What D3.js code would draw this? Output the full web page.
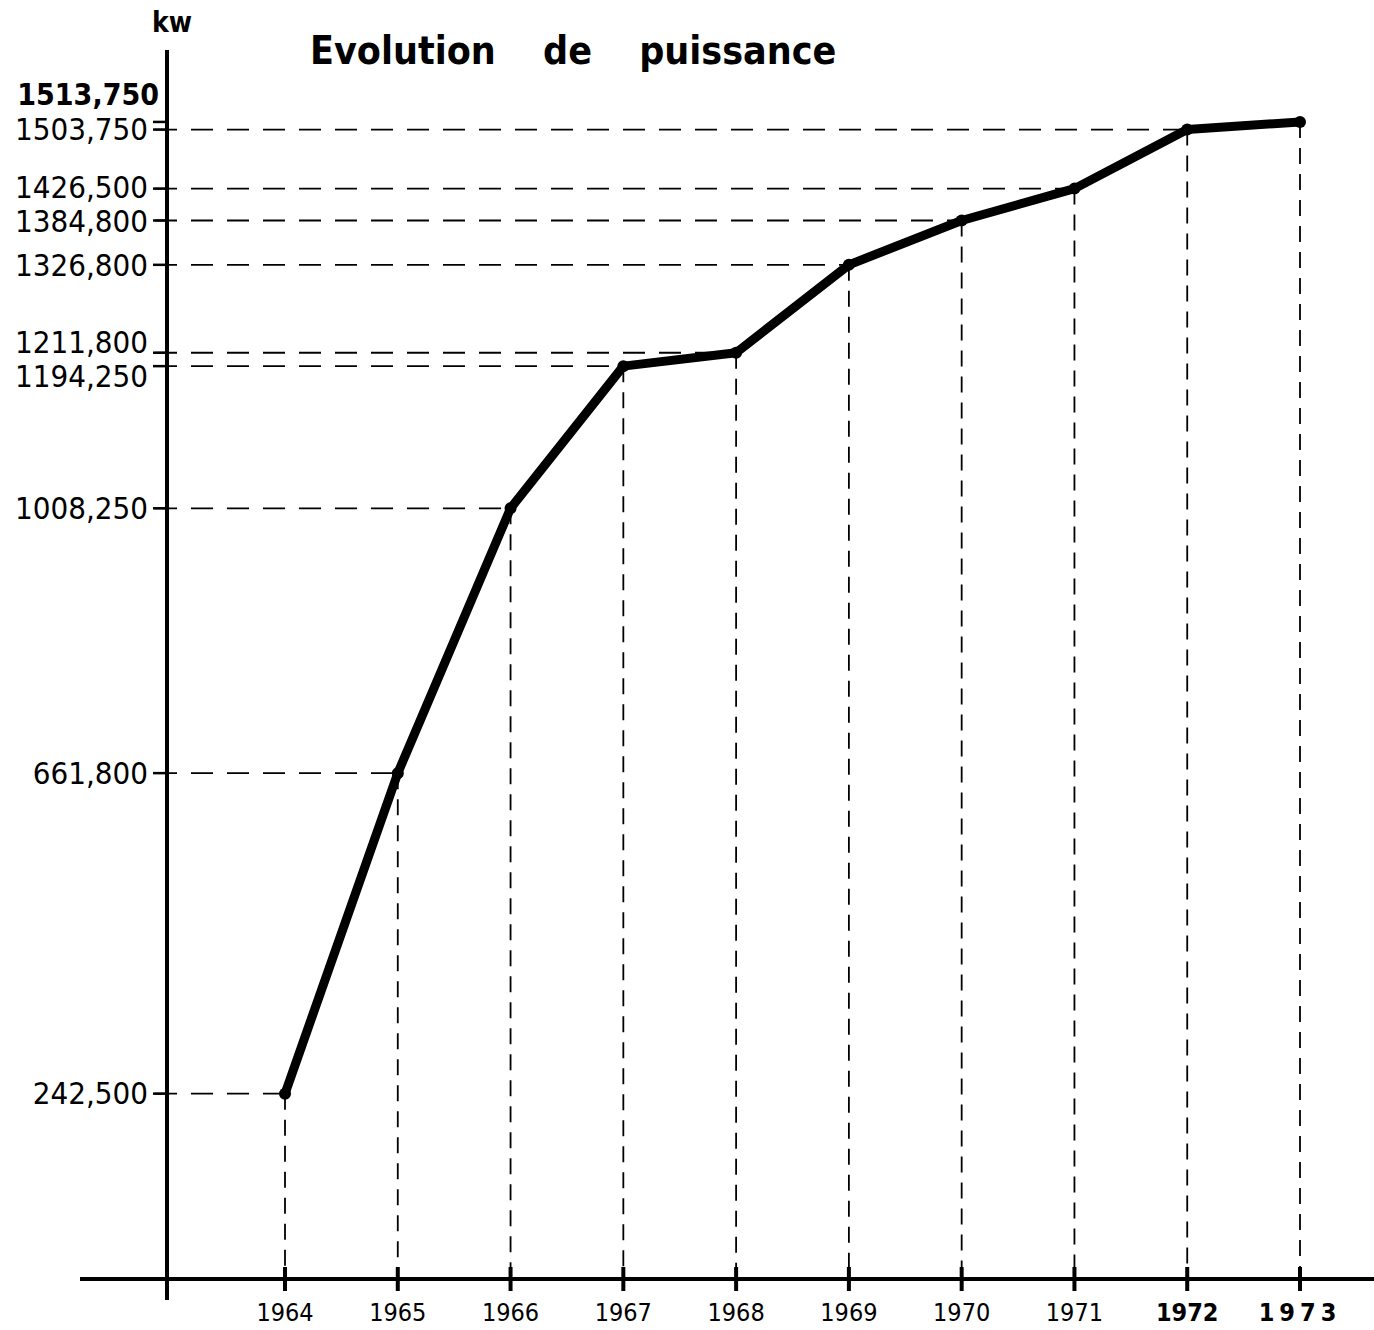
<!DOCTYPE html>
<html><head><meta charset="utf-8">
<script src="https://cdn.jsdelivr.net/npm/d3@7"></script>
<style>body{margin:0;background:#fff}</style>
</head><body>
<svg id="c" width="1374" height="1330"></svg>
<script>
// ---- data ----
const years = [1964, 1965, 1966, 1967, 1968, 1969, 1970, 1971, 1972, 1973];
const power = [242.5, 661.8, 1008.25, 1194.25, 1211.8, 1326.8, 1384.8, 1426.5, 1503.75, 1513.75]; // thousands kw
const powerLabels = ["242,500", "661,800", "1008,250", "1194,250", "1211,800", "1326,800", "1384,800", "1426,500", "1503,750", "1513,750"];
const yearLabels = ["1964", "1965", "1966", "1967", "1968", "1969", "1970", "1971", "1972", "1973"];
const title = "Evolution de puissance";
const unit = "kw";

const svg = d3.select("#c");
const W = 1374, H = 1330;
svg.append("rect").attr("width", W).attr("height", H).attr("fill", "#fff");

const x = d3.scaleLinear().domain([1964, 1973]).range([285, 1300]);
const y = d3.scaleLinear().domain([0, 1600]).range([1279, 56]);
const axisX = 167, baseY = y(0);
const font = "'DejaVu Sans Condensed','DejaVu Sans',sans-serif";

const data = years.map((yr, i) => ({ yr, v: power[i], lab: powerLabels[i], ylab: yearLabels[i], i }));
const last = data.length - 1;

// label positions: start at the value, nudge apart where they would collide
data.forEach(d => d.ly = y(d.v) + (d.i === last ? -27 : 0));
const minGap = 34;
for (let it = 0; it < 50; it++) {
  const s = data.slice().sort((a, b) => a.ly - b.ly);
  for (let k = 1; k < s.length; k++) {
    const gap = s[k].ly - s[k - 1].ly;
    if (gap < minGap) {
      const m = (minGap - gap) / 2;
      s[k - 1].ly -= m; s[k].ly += m;
    }
  }
}

// dashed guides
const g = svg.append("g").attr("stroke", "#000").attr("fill", "none");
g.selectAll("line.h").data(data.filter(d => d.i !== last)).join("line")
  .attr("class", "h")
  .attr("x1", axisX - 12).attr("x2", d => x(d.yr))
  .attr("y1", d => y(d.v)).attr("y2", d => y(d.v))
  .attr("stroke-width", 1.8).attr("stroke-dasharray", "22,14");
g.selectAll("line.v").data(data).join("line")
  .attr("class", "v")
  .attr("x1", d => x(d.yr)).attr("x2", d => x(d.yr))
  .attr("y1", d => y(d.v)).attr("y2", baseY)
  .attr("stroke-width", 1.8).attr("stroke-dasharray", "16,10");

// axes
svg.append("line").attr("x1", axisX).attr("x2", axisX).attr("y1", 50).attr("y2", 1300)
  .attr("stroke", "#000").attr("stroke-width", 4);
svg.append("line").attr("x1", 80).attr("x2", W).attr("y1", baseY).attr("y2", baseY)
  .attr("stroke", "#000").attr("stroke-width", 4);

// x tick marks
svg.selectAll("line.xt").data(data).join("line")
  .attr("class", "xt")
  .attr("x1", d => x(d.yr)).attr("x2", d => x(d.yr))
  .attr("y1", baseY - 12).attr("y2", baseY + 12)
  .attr("stroke", "#000").attr("stroke-width", 4);

// y tick marks
svg.selectAll("line.yt").data(data).join("line")
  .attr("class", "yt")
  .attr("x1", axisX - 14).attr("x2", axisX)
  .attr("y1", d => y(d.v)).attr("y2", d => y(d.v))
  .attr("stroke", "#000").attr("stroke-width", 2.5);

// y labels
svg.selectAll("text.yl").data(data).join("text")
  .attr("class", "yl")
  .attr("x", d => d.i === last ? 159 : 148)
  .attr("y", d => d.ly)
  .attr("dy", "0.35em")
  .attr("text-anchor", "end")
  .attr("font-family", font)
  .attr("font-size", d => d.i === last ? 30 : 31)
  .attr("font-weight", d => d.i === last ? "bold" : "normal")
  .text(d => d.lab);

// x labels
svg.selectAll("text.xl").data(data).join("text")
  .attr("class", "xl")
  .attr("x", d => x(d.yr))
  .attr("y", 1321)
  .attr("text-anchor", "middle")
  .attr("font-family", font)
  .attr("font-size", 25)
  .attr("font-weight", d => d.i >= 8 ? "bold" : "normal")
  .attr("letter-spacing", d => d.i === last ? 5 : 0)
  .text(d => d.ylab);

// the curve
const line = d3.line().x(d => x(d.yr)).y(d => y(d.v));
svg.append("path").datum(data).attr("d", line)
  .attr("fill", "none").attr("stroke", "#000").attr("stroke-width", 9)
  .attr("stroke-linejoin", "round").attr("stroke-linecap", "round");
svg.selectAll("circle.pt").data(data).join("circle")
  .attr("class", "pt")
  .attr("cx", d => x(d.yr)).attr("cy", d => y(d.v)).attr("r", 6).attr("fill", "#000");

// title & unit
svg.append("text").attr("x", 310).attr("y", 64)
  .attr("font-family", font).attr("font-size", 39).attr("font-weight", "bold")
  .attr("word-spacing", 35)
  .text(title);
svg.append("text").attr("x", 172).attr("y", 32).attr("text-anchor", "middle")
  .attr("font-family", font).attr("font-size", 28).attr("font-weight", "bold")
  .text(unit);
</script>
</body></html>
